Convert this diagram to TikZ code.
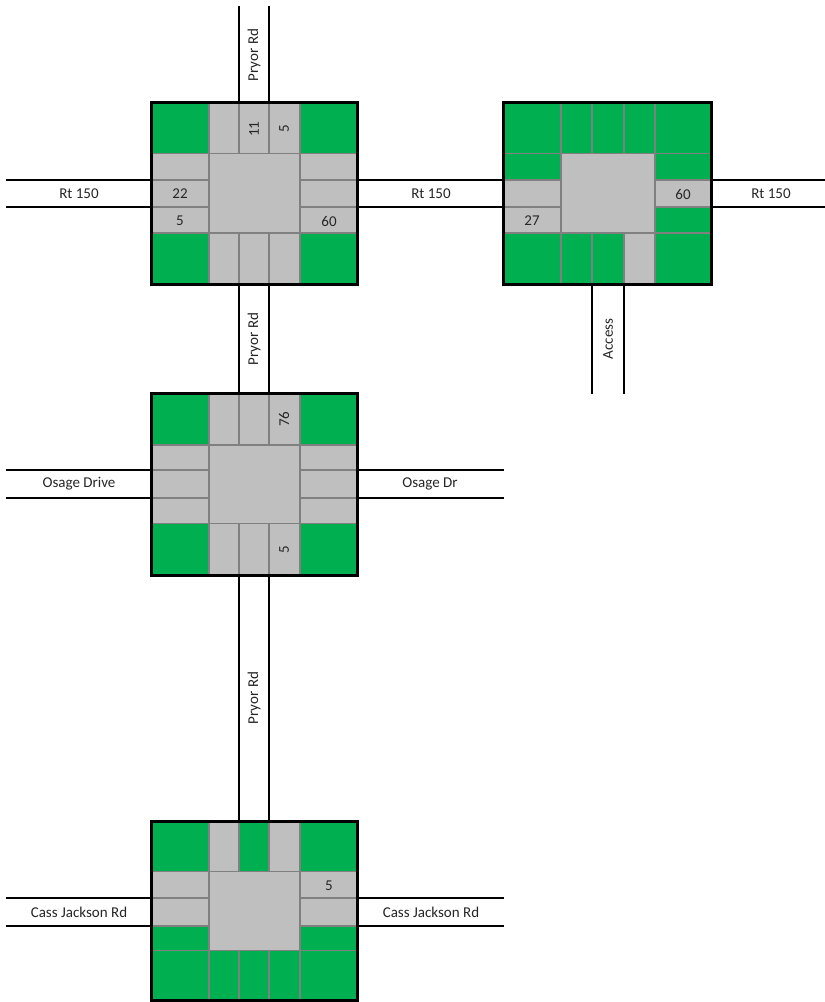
\documentclass[tikz,border=0pt]{standalone}
\usepackage{fontspec}
\setmainfont{Carlito}
\definecolor{grass}{HTML}{00B050}
\definecolor{pave}{HTML}{BFBFBF}
\definecolor{gridline}{HTML}{808080}
\definecolor{ink}{HTML}{262626}
\tikzset{
  road/.style={draw=black,line width=1.6pt},
  sep/.style={draw=gridline,line width=1.4pt},
  border/.style={draw=black,line width=3pt,rectangle,inner sep=0pt,outer sep=0pt},
  lbl/.style={font=\fontsize{15}{18}\selectfont,text=ink,inner sep=0pt},
  vlbl/.style={lbl,rotate=90},
}
% column and row positions of the junction being drawn
\newcommand{\setcols}[6]{\def\Xa{#1}\def\Xb{#2}\def\Xc{#3}\def\Xd{#4}\def\Xe{#5}\def\Xf{#6}}
\newcommand{\setrows}[6]{\def\Ya{#1}\def\Yb{#2}\def\Yc{#3}\def\Yd{#4}\def\Ye{#5}\def\Yf{#6}}
\newcommand{\cellfill}[5]{\fill[#1] (\csname X#2\endcsname,\csname Y#3\endcsname) rectangle (\csname X#4\endcsname,\csname Y#5\endcsname);}
\newcommand{\seps}{%
  \draw[sep] (\Xb,\Ya) -- (\Xb,\Yf) (\Xe,\Ya) -- (\Xe,\Yf)
             (\Xa,\Yb) -- (\Xf,\Yb) (\Xa,\Ye) -- (\Xf,\Ye)
             (\Xc,\Ya) -- (\Xc,\Yb) (\Xd,\Ya) -- (\Xd,\Yb)
             (\Xc,\Ye) -- (\Xc,\Yf) (\Xd,\Ye) -- (\Xd,\Yf)
             (\Xa,\Yc) -- (\Xb,\Yc) (\Xa,\Yd) -- (\Xb,\Yd)
             (\Xe,\Yc) -- (\Xf,\Yc) (\Xe,\Yd) -- (\Xf,\Yd);}
\newcommand{\outline}[1]{\node[border,minimum width={(\Xf-\Xa)*1pt},minimum height={(\Yf-\Ya)*1pt}] (#1) at ({(\Xa+\Xf)/2},{(\Ya+\Yf)/2}) {};}
\newcommand{\fourcorners}{%
  \cellfill{pave}{a}{a}{f}{f}
  \cellfill{grass}{a}{a}{b}{b}\cellfill{grass}{e}{a}{f}{b}
  \cellfill{grass}{a}{e}{b}{f}\cellfill{grass}{e}{e}{f}{f}}
\begin{document}
\begin{tikzpicture}[x=1pt,y=-1pt]
\useasboundingbox (0,0) rectangle (825,1002);
\fill[white] (0,0) rectangle (825,1002);

% Junction 1: Pryor Rd / Rt 150
\setcols{151}{209}{239}{269}{300}{357}
\setrows{102.7}{153.7}{180}{207}{233}{284}
\fourcorners \seps \outline{J1}

% Junction 2: Access / Rt 150
\setcols{503.3}{561}{592}{624}{655}{711.3}
\setrows{102.7}{153.7}{180}{207}{233}{284}
\cellfill{grass}{a}{a}{f}{f}
\cellfill{pave}{b}{b}{e}{e}
\cellfill{pave}{a}{c}{b}{e}
\cellfill{pave}{e}{c}{f}{d}
\cellfill{pave}{d}{e}{e}{f}
\seps \outline{J2}

% Junction 3: Pryor Rd / Osage
\setcols{151}{209}{239}{269}{300}{357}
\setrows{393.7}{445}{470}{498}{523.7}{575}
\fourcorners \seps \outline{J3}

% Junction 4: Pryor Rd / Cass Jackson
\setcols{151}{209}{239}{269}{300}{357}
\setrows{821.3}{871.7}{898}{926}{950.7}{1000.5}
\cellfill{grass}{a}{a}{f}{f}
\cellfill{pave}{b}{b}{e}{e}
\cellfill{pave}{a}{b}{f}{d}
\cellfill{pave}{b}{a}{c}{b}
\cellfill{pave}{d}{a}{e}{b}
\seps \outline{J4}

% Free road ends
\coordinate (pt1) at (239,6);    \coordinate (pt2) at (269,6);
\coordinate (wa1) at (6,180);    \coordinate (wa2) at (6,207);
\coordinate (ea1) at (825,180);  \coordinate (ea2) at (825,207);
\coordinate (ac1) at (592,394);  \coordinate (ac2) at (624,394);
\coordinate (ow1) at (6,470);    \coordinate (ow2) at (6,498);
\coordinate (oe1) at (504,470);  \coordinate (oe2) at (504,498);
\coordinate (cw1) at (6,898);    \coordinate (cw2) at (6,926);
\coordinate (ce1) at (504,898);  \coordinate (ce2) at (504,926);

% Roads
\draw[road] (pt1) -- (pt1 |- J1.north);
\draw[road] (pt2) -- (pt2 |- J1.north);
\draw[road] (wa1) -- (wa1 -| J1.west);
\draw[road] (wa2) -- (wa2 -| J1.west);
\draw[road] (wa1 -| J1.east) -- (wa1 -| J2.west);
\draw[road] (wa2 -| J1.east) -- (wa2 -| J2.west);
\draw[road] (ea1) -- (ea1 -| J2.east);
\draw[road] (ea2) -- (ea2 -| J2.east);
\draw[road] (pt1 |- J1.south) -- (pt1 |- J3.north);
\draw[road] (pt2 |- J1.south) -- (pt2 |- J3.north);
\draw[road] (ac1 |- J2.south) -- (ac1);
\draw[road] (ac2 |- J2.south) -- (ac2);
\draw[road] (ow1) -- (ow1 -| J3.west);
\draw[road] (ow2) -- (ow2 -| J3.west);
\draw[road] (oe1 -| J3.east) -- (oe1);
\draw[road] (oe2 -| J3.east) -- (oe2);
\draw[road] (pt1 |- J3.south) -- (pt1 |- J4.north);
\draw[road] (pt2 |- J3.south) -- (pt2 |- J4.north);
\draw[road] (cw1) -- (cw1 -| J4.west);
\draw[road] (cw2) -- (cw2 -| J4.west);
\draw[road] (ce1 -| J4.east) -- (ce1);
\draw[road] (ce2 -| J4.east) -- (ce2);

% Road names
\node[lbl] (n1) at (79,194) {Rt 150};
\node[lbl] (n2) at (431,194) {Rt 150};
\node[lbl] (n3) at (771,193.5) {Rt 150};
\node[vlbl] (n4) at (254,55) {Pryor Rd};
\node[vlbl] (n5) at (254,339) {Pryor Rd};
\node[vlbl] (n6) at (254,698) {Pryor Rd};
\node[vlbl] (n7) at (608,339) {Access};
\node[lbl] (n8) at (79,484) {Osage Drive};
\node[lbl] (n9) at (430,484) {Osage Dr};
\node[lbl] (n10) at (79,912) {Cass Jackson Rd};
\node[lbl] (n11) at (431,912) {Cass Jackson Rd};

% Counts
\node[vlbl] (c1) at (254,129) {11};
\node[vlbl] (c2) at (284,129) {5};
\node[lbl] (c3) at (180,194) {22};
\node[lbl] (c4) at (180,221) {5};
\node[lbl] (c5) at (329,221) {60};
\node[lbl] (c6) at (532,221) {27};
\node[lbl] (c7) at (683,194) {60};
\node[vlbl] (c8) at (284,419) {76};
\node[vlbl] (c9) at (284,550) {5};
\node[lbl] (c10) at (329,886) {5};
\end{tikzpicture}
\end{document}
